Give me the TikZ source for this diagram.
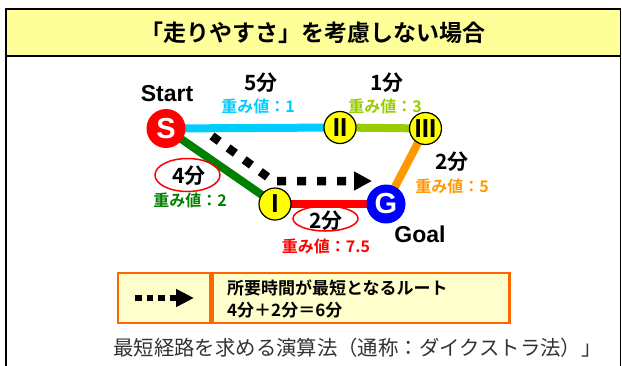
\documentclass[tikz,border=0pt]{standalone}
\usepackage{fontspec}
\setmainfont{Liberation Sans}
\newfontfamily\jp{Noto Sans CJK JP}[BoldFont={Noto Sans CJK JP Bold}]
\usetikzlibrary{arrows.meta,backgrounds,shapes.geometric}
\definecolor{titleY}{RGB}{255,255,153}
\definecolor{legY}{RGB}{255,255,204}
\definecolor{legO}{RGB}{255,102,0}
\definecolor{cyanL}{RGB}{0,204,255}
\definecolor{ygL}{RGB}{153,204,0}
\definecolor{orL}{RGB}{255,153,0}
\definecolor{grL}{RGB}{0,128,0}
\definecolor{rdL}{RGB}{255,0,0}
\definecolor{blL}{RGB}{0,0,255}
\definecolor{ndY}{RGB}{255,255,0}
\definecolor{txG}{RGB}{51,51,51}
\tikzset{
  bignode/.style={circle, minimum size=39pt, inner sep=0pt, text=white,
    font=\fontsize{29}{29}\selectfont\bfseries},
  smallnode/.style={circle, draw=black, line width=1.2pt, fill=ndY, minimum size=32pt,
    inner sep=0pt, font=\fontsize{26}{26}\selectfont\bfseries},
  edge/.style={line width=8pt},
  timelbl/.style={font=\jp\bfseries\fontsize{21}{21}\selectfont, inner sep=0pt},
  wlbl/.style={font=\jp\bfseries\fontsize{16}{16}\selectfont, inner sep=0pt},
  enlbl/.style={font=\fontsize{23}{23}\selectfont\bfseries, inner sep=0pt},
  redell/.style={ellipse, draw=rdL, line width=1.5pt},
}
\begin{document}
\begin{tikzpicture}[x=1pt,y=-1pt]
\useasboundingbox (0,0) rectangle (622,365);
% frame
\draw[line width=1.5pt, fill=titleY] (6,9) rectangle (620.5,56);
\draw[line width=1.5pt] (6,56) -- (6,366);
\draw[line width=1.5pt] (620.5,56) -- (620.5,366);
\node[font=\jp\bfseries\fontsize{23}{23}\selectfont] (title) at (313,33) {「走りやすさ」を考慮しない場合};

% graph nodes
\node[bignode, fill=rdL] (S) at (166,128.5) {S};
\node[smallnode] (II) at (340,127.5) {II};
\node[smallnode] (III) at (425.5,128.5) {III};
\node[smallnode] (I) at (275,204) {I};
\node[bignode, fill=blL] (G) at (386,204) {G};

\begin{scope}[on background layer]
\draw[edge, cyanL] (S.center) -- (II.center);
\draw[edge, ygL] (II.center) -- (III.center);
\draw[edge, orL] (III.center) -- (G.center);
\draw[edge, grL] (S.center) -- (I.center);
\draw[edge, rdL] (I.center) -- (G.center);
\end{scope}

% dashed shortest route
\coordinate (d0) at (212,136);
\coordinate (d1) at (273,181);
\coordinate (d2) at (372,181);
\draw[line width=8.5pt, dash pattern=on 9pt off 11pt,
  -{Triangle[length=18pt,width=18pt]}] (d0) -- (d1) -- (d2);

% labels
\node[enlbl] (start) at (167,94) {Start};
\node[enlbl] (goal) at (420,234) {Goal};
\node[timelbl] (t1) at (261,83) {5分};
\node[wlbl, text=cyanL] (w1) at (258,106) {重み値：1};
\node[timelbl] (t2) at (387,83) {1分};
\node[wlbl, text=ygL] (w2) at (385,106) {重み値：3};
\node[timelbl] (t3) at (452,162) {2分};
\node[wlbl, text=orL] (w3) at (452,186) {重み値：5};
\node[redell, minimum width=65pt, minimum height=33pt] (e4) at (187.5,175) {};
\node[timelbl] (t4) at (189,176) {4分};
\node[wlbl, text=grL] (w4) at (190,200) {重み値：2};
\node[redell, minimum width=65pt, minimum height=25pt] (e5) at (325.5,218.5) {};
\node[timelbl] (t5) at (326,221) {2分};
\node[wlbl, text=rdL] (w5) at (326,246) {重み値：7.5};

% legend
\node[draw=legO, line width=2.5pt, fill=legY, minimum width=92pt, minimum height=50pt,
  inner sep=0pt] (legL) at (164,298) {};
\node[draw=legO, line width=2.5pt, fill=legY, minimum width=297pt, minimum height=50pt,
  inner sep=0pt, anchor=west] (legR) at (legL.east) {};
\coordinate (l0) at (135,298);
\coordinate (l1) at (194,298);
\draw[line width=6.5pt, dash pattern=on 6.5pt off 5pt,
  -{Triangle[length=18pt,width=17pt]}] (l0) -- (l1);
\node[anchor=west, align=left, inner sep=0pt, font=\jp\bfseries\fontsize{17}{22}\selectfont]
  (legtxt) at (227,299) {所要時間が最短となるルート\\4分＋2分＝6分};

\node[anchor=west, inner sep=0pt, text=txG, font=\jp\fontsize{20.4}{20.4}\selectfont]
  (note) at (113,348) {最短経路を求める演算法（通称：ダイクストラ法）」};
\end{tikzpicture}
\end{document}
